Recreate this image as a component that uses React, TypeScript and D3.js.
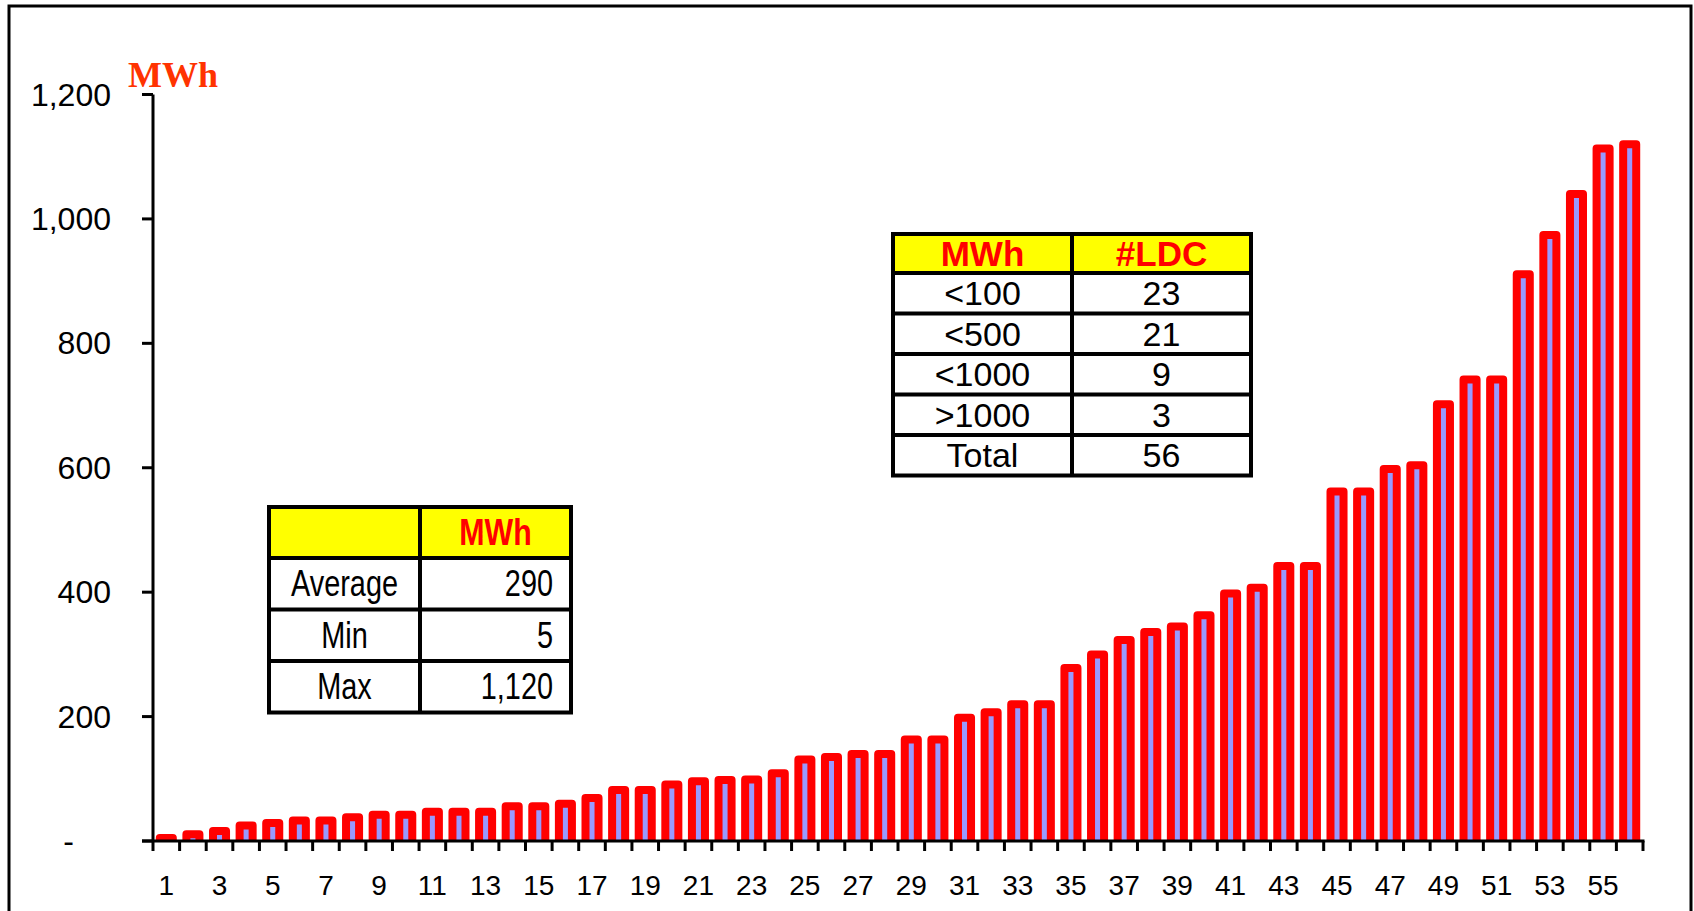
import React from "react";
import * as d3 from "d3";

const categories = ["1","2","3","4","5","6","7","8","9","10","11","12","13","14","15","16","17","18","19","20","21","22","23","24","25","26","27","28","29","30","31","32","33","34","35","36","37","38","39","40","41","42","43","44","45","46","47","48","49","50","51","52","53","54","55","56"];
const values = [5,11,16,25,29,33,33,38,42,42,47,47,47,56,56,60,69,82,82,91,96,98,99,109,131,135,140,140,163,163,198,207,220,220,278,300,323,336,345,363,398,407,442,442,562,562,598,604,702,742,742,911,974,1040,1113,1120];
const yTicks = [0,200,400,600,800,1000,1200];
const statsHeader = ["", "MWh"];
const statsRows = [["Average","290"],["Min","5"],["Max","1,120"]];
const bucketHeader = ["MWh", "#LDC"];
const bucketRows = [["<100","23"],["<500","21"],["<1000","9"],[">1000","3"],["Total","56"]];

const SANS = "'Liberation Sans', Arial, sans-serif";
const SERIF = "'Liberation Serif', 'Times New Roman', serif";

export default function App() {
  const W = 1694, H = 911;
  const x0 = 153, x1 = 1643, yBase = 841, yTop = 94.5;
  const x = d3.scaleBand<string>().domain(categories).range([x0, x1]).paddingInner(0.51).paddingOuter(0.255);
  const y = d3.scaleLinear().domain([0, 1200]).range([yBase, yTop]);
  const step = x.step();
  const fmt = d3.format(",");
  const bw = x.bandwidth();

  const lt = { x: 269, y: 507, w: 302, col: 151, hh: 51, rh: 51.5 };
  const rt = { x: 893, y: 234, w: 358, col: 179, hh: 39, rh: 40.5 };

  const boundaries = d3.range(categories.length + 1).map(i => x0 + i * step);

  return (
    <svg width={W} height={H} style={{ position: "absolute", left: 0, top: 0, background: "#fff" }}>
      <defs>
        <clipPath id="plotClip">
          <rect x={x0} y={0} width={x1 - x0} height={yBase} />
        </clipPath>
      </defs>
      <rect x={0} y={0} width={W} height={H} fill="#fff" />
      <rect x={9} y={6} width={1682} height={960} fill="none" stroke="#000" strokeWidth={3} />

      <g clipPath="url(#plotClip)">
        {values.map((v, i) => (
          <rect key={i}
            x={x(categories[i])!}
            y={y(v)}
            width={bw}
            height={yBase - y(v) + 6}
            fill="#9999FF"
            stroke="#FF0000"
            strokeWidth={8}
            strokeLinejoin="round" />
        ))}
      </g>

      <line x1={x0} x2={x0} y1={yTop} y2={yBase} stroke="#000" strokeWidth={3} />
      {yTicks.map(t => (
        <g key={t}>
          <line x1={x0 - 11} x2={x0} y1={y(t)} y2={y(t)} stroke="#000" strokeWidth={3} />
          <text x={t === 0 ? 74 : 111} y={y(t) + 11} textAnchor="end" fontFamily={SANS} fontSize={32} fill="#000">
            {t === 0 ? "-" : fmt(t)}
          </text>
        </g>
      ))}

      <line x1={x0 - 11} x2={x1 + 1.5} y1={yBase} y2={yBase} stroke="#000" strokeWidth={3} />
      {boundaries.map((bx, i) => (
        <line key={i} x1={bx} x2={bx} y1={yBase} y2={yBase + 10} stroke="#000" strokeWidth={3} />
      ))}
      {categories.map((c, i) => i % 2 === 0 ? (
        <text key={c} x={x(c)! + bw / 2} y={895} textAnchor="middle" fontFamily={SANS} fontSize={28} fill="#000">{c}</text>
      ) : null)}

      <text x={128} y={87} fontFamily={SERIF} fontWeight="bold" fontSize={36} fill="#FF3300">MWh</text>

      <g>
        <rect x={lt.x} y={lt.y} width={lt.w} height={lt.hh} fill="#FFFF00" />
        <rect x={lt.x} y={lt.y} width={lt.w} height={lt.hh + lt.rh * statsRows.length} fill="none" stroke="#000" strokeWidth={4} />
        <line x1={lt.x + lt.col} x2={lt.x + lt.col} y1={lt.y} y2={lt.y + lt.hh + lt.rh * statsRows.length} stroke="#000" strokeWidth={4} />
        {statsRows.map((_, i) => (
          <line key={i} x1={lt.x} x2={lt.x + lt.w} y1={lt.y + lt.hh + lt.rh * i} y2={lt.y + lt.hh + lt.rh * i} stroke="#000" strokeWidth={4} />
        ))}
        <text transform={`translate(${lt.x + lt.col + (lt.w - lt.col) / 2},${lt.y + 38}) scale(0.82,1)`} textAnchor="middle"
          fontFamily={SANS} fontWeight="bold" fontSize={37} fill="#FF0000">{statsHeader[1]}</text>
        {statsRows.map((r, i) => {
          const by = lt.y + lt.hh + lt.rh * i + 38;
          return (
            <g key={r[0]}>
              <text transform={`translate(${lt.x + lt.col / 2},${by}) scale(0.78,1)`} textAnchor="middle"
                fontFamily={SANS} fontSize={37} fill="#000">{r[0]}</text>
              <text transform={`translate(${lt.x + lt.w - 18},${by}) scale(0.78,1)`} textAnchor="end"
                fontFamily={SANS} fontSize={37} fill="#000">{r[1]}</text>
            </g>
          );
        })}
      </g>

      <g>
        <rect x={rt.x} y={rt.y} width={rt.w} height={rt.hh} fill="#FFFF00" />
        <rect x={rt.x} y={rt.y} width={rt.w} height={rt.hh + rt.rh * bucketRows.length} fill="none" stroke="#000" strokeWidth={4} />
        <line x1={rt.x + rt.col} x2={rt.x + rt.col} y1={rt.y} y2={rt.y + rt.hh + rt.rh * bucketRows.length} stroke="#000" strokeWidth={4} />
        {bucketRows.map((_, i) => (
          <line key={i} x1={rt.x} x2={rt.x + rt.w} y1={rt.y + rt.hh + rt.rh * i} y2={rt.y + rt.hh + rt.rh * i} stroke="#000" strokeWidth={4} />
        ))}
        {bucketHeader.map((h, j) => (
          <text key={h} x={rt.x + rt.col * j + rt.col / 2} y={rt.y + 32} textAnchor="middle"
            fontFamily={SANS} fontWeight="bold" fontSize={35} fill="#FF0000">{h}</text>
        ))}
        {bucketRows.map((r, i) => (
          <g key={r[0]}>
            {r.map((c, j) => (
              <text key={j} x={rt.x + rt.col * j + rt.col / 2} y={rt.y + rt.hh + rt.rh * i + 32} textAnchor="middle"
                fontFamily={SANS} fontSize={34} fill="#000">{c}</text>
            ))}
          </g>
        ))}
      </g>
    </svg>
  );
}
